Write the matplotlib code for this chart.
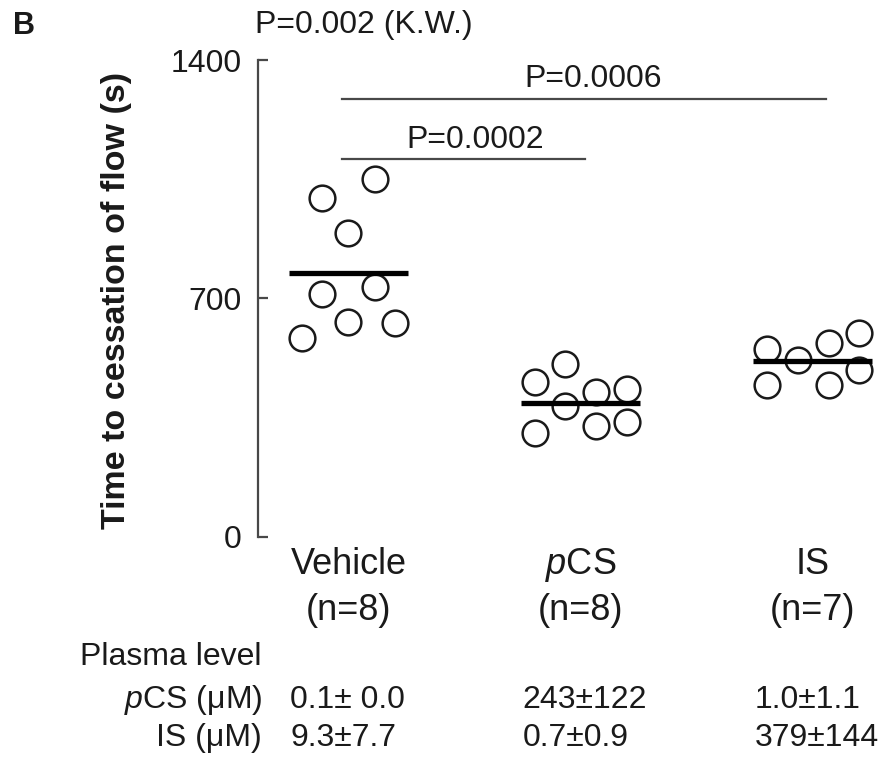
import numpy as np
import matplotlib
matplotlib.use("Agg")
import matplotlib.pyplot as plt
from matplotlib.transforms import blended_transform_factory

plt.rcParams["font.family"] = ["Liberation Sans", "DejaVu Sans"]
plt.rcParams["mathtext.fontset"] = "custom"
plt.rcParams["mathtext.rm"] = "Liberation Sans"
plt.rcParams["mathtext.it"] = "Liberation Sans:italic"

# DATA
groups = ["Vehicle", "$\\mathit{p}$CS", "IS"]
group_n = ["(n=8)", "(n=8)", "(n=7)"]

vehicle_vals = [1050, 996, 891, 712, 732, 630, 627, 583]
vehicle_xoff = [0.114, -0.116, 0.0, -0.116, 0.114, 0.0, 0.2, -0.2]
pcs_vals = [508, 454, 425, 434, 384, 324, 337, 304]
pcs_xoff = [-0.065, -0.197, 0.065, 0.201, -0.065, 0.065, 0.201, -0.197]
is_vals = [552, 520, 569, 598, 488, 444, 444]
is_xoff = [-0.195, -0.062, 0.07, 0.2, 0.2, 0.07, -0.195]

mean_vals = [773, 391, 515]

yticks = [0, 700, 1400]

# significance brackets
sig_x0 = [-0.03, -0.03]
sig_x1 = [1.02, 2.06]
sig_y = [1108, 1285]
sig_labels = ["P=0.0002", "P=0.0006"]
sig_label_x = [0.547, 1.056]
kw_label = "P=0.002 (K.W.)"

plasma_rows = ["$\\mathit{p}$CS (\u03bcM)", "IS (\u03bcM)"]
plasma_pcs = ["0.1\u00b1 0.0", "243\u00b1122", "1.0\u00b11.1"]
plasma_is = ["9.3\u00b17.7", "0.7\u00b10.9", "379\u00b1144"]

# STYLE
FS = 24
INK = "#1a1a1a"
LINE_GRAY = "#484848"

W, H = 886, 763
fig = plt.figure(figsize=(W / 100, H / 100), dpi=100)
ax = fig.add_axes([258 / W, 1 - 536.5 / H, 624 / W, 476.5 / H])

all_vals = [vehicle_vals, pcs_vals, is_vals]
all_off = [vehicle_xoff, pcs_xoff, is_xoff]
for i, (vals, offs) in enumerate(zip(all_vals, all_off)):
    xs = i + np.array(offs)
    ax.plot(xs, vals, "o", ms=18.5, mfc="white", mec=INK, mew=1.8,
            linestyle="none", zorder=3, clip_on=False)
    ax.plot([i - 0.255, i + 0.255], [mean_vals[i], mean_vals[i]],
            color="black", lw=3.8, solid_capstyle="butt", zorder=4)

for x0, x1, y, lbl, lx in zip(sig_x0, sig_x1, sig_y, sig_labels, sig_label_x):
    ax.plot([x0, x1], [y, y], color=LINE_GRAY, lw=1.6, clip_on=False)
    ax.text(lx, y + 14, lbl, ha="center", va="bottom", fontsize=FS - 1,
            color=INK)

ax.set_xlim(-0.39, 2.3)
ax.set_ylim(0, 1400)
ax.set_yticks(yticks)
ax.set_yticklabels([str(t) for t in yticks], fontsize=FS - 1, color=INK)
ax.set_xticks([])
for s in ["top", "right", "bottom"]:
    ax.spines[s].set_visible(False)
ax.spines["left"].set_color(LINE_GRAY)
ax.spines["left"].set_linewidth(1.6)
ax.tick_params(axis="y", direction="in", length=7, width=1.6,
               color=LINE_GRAY, pad=12)

fig.text(117 / W, 1 - 300 / H, "Time to cessation of flow (s)", rotation=90,
         ha="center", va="center", fontsize=FS + 0.5, fontweight="bold",
         color=INK)
fig.text(24 / W, 1 - 26 / H, "B", ha="center", va="center", fontsize=FS - 2,
         fontweight="bold", color=INK)
fig.text(255 / W, 1 - 25 / H, kw_label, ha="left", va="center",
         fontsize=FS - 1, color=INK)

# category labels under the axis
tr = blended_transform_factory(ax.transData, fig.transFigure)
for i, (g, n) in enumerate(zip(groups, group_n)):
    ax.text(i, 1 - 565 / H, g, transform=tr, ha="center", va="center",
            fontsize=FS + 2, color=INK)
    ax.text(i, 1 - 611 / H, n, transform=tr, ha="center", va="center",
            fontsize=FS + 2, color=INK)

# plasma level table
fig.text(262 / W, 1 - 657 / H, "Plasma level", ha="right", va="center",
         fontsize=FS - 1, color=INK)
row_y = [700, 738]
for lbl, y in zip(plasma_rows, row_y):
    fig.text(262 / W, 1 - y / H, lbl, ha="right", va="center",
             fontsize=FS - 1, color=INK)
for vals, y in zip([plasma_pcs, plasma_is], row_y):
    for i, v in enumerate(vals):
        ax.text(i - 0.25, 1 - y / H, v, transform=tr, ha="left", va="center",
                fontsize=FS - 1, color=INK)

fig.savefig("out.png", dpi=100)
